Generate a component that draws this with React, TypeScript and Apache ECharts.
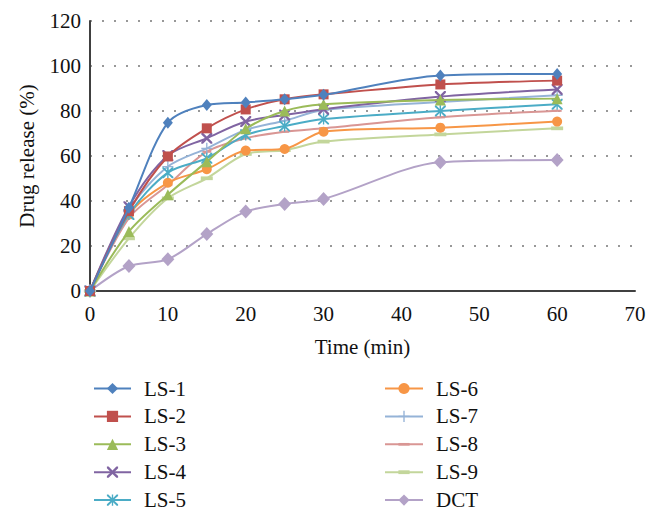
import React, { useEffect, useRef } from "react";
import * as echarts from "echarts";

const times = [0, 5, 10, 15, 20, 25, 30, 45, 60];
const seriesNames = ["LS-1", "LS-2", "LS-3", "LS-4", "LS-5", "LS-6", "LS-7", "LS-8", "LS-9", "DCT"];
const ls1 = [0, 37, 74.8, 82.7, 83.8, 85.2, 87.2, 95.8, 96.5];
const ls2 = [0, 35.5, 59.8, 72.3, 80.7, 85.2, 87.4, 91.8, 93.5];
const ls3 = [0, 26.4, 42.8, 57.5, 72.1, 80, 83, 84.9, 85.5];
const ls4 = [0, 37.5, 60.2, 67.9, 75.3, 78.2, 80.8, 86.4, 89.6];
const ls5 = [0, 34, 52.6, 59, 69.3, 73.3, 76.4, 80, 83];
const ls6 = [0, 34, 48.1, 54.1, 62.4, 63.1, 70.8, 72.6, 75.3];
const ls7 = [0, 36, 55.3, 63.4, 71.6, 75.7, 80.4, 84, 87];
const ls8 = [0, 32.4, 47.1, 61.9, 67.9, 70.8, 72.3, 77.2, 80.1];
const ls9 = [0, 23.4, 41.2, 50.1, 60.9, 62.6, 66.4, 69.6, 72.3];
const dct = [0, 11.1, 14.1, 25.3, 35.3, 38.7, 40.9, 57.2, 58.2];
const yTicks = [0, 20, 40, 60, 80, 100, 120];
const xTicks = [0, 10, 20, 30, 40, 50, 60, 70];

const allValues = [ls1, ls2, ls3, ls4, ls5, ls6, ls7, ls8, ls9, dct];
const colors = ["#4F81BD", "#C0504D", "#9BBB59", "#8064A2", "#4BACC6", "#F79646", "#95B3D7", "#D99694", "#C3D69B", "#B3A2C7"];

const xPath = "path://M0,0 L1.5,0 L5,3.5 L8.5,0 L10,0 L10,1.5 L6.5,5 L10,8.5 L10,10 L8.5,10 L5,6.5 L1.5,10 L0,10 L0,8.5 L3.5,5 L0,1.5 Z";
const plusPath = "path://M4.4,0 H5.6 V4.4 H10 V5.6 H5.6 V10 H4.4 V5.6 H0 V4.4 H4.4 Z";
const starPath = "path://M0,0 L1.3,0 L4.4,3.1 L4.4,0 L5.6,0 L5.6,3.1 L8.7,0 L10,0 L10,1.3 L5.9,5 L10,8.7 L10,10 L8.7,10 L5.6,6.9 L5.6,10 L4.4,10 L4.4,6.9 L1.3,10 L0,10 L0,8.7 L4.1,5 L0,1.3 Z";
const thinRect = "path://M0,0 M0,3.8 H10 V6.2 H0 Z M10,10";
const midRect = "path://M0,0 M0,3.3 H10 V6.7 H0 Z M10,10";

const symbols = ["diamond", "rect", "triangle", xPath, starPath, "circle", plusPath, thinRect, midRect, "diamond"];
const symbolSizes: any[] = [[10, 12], 10, 11, 11, 11, 10, 11, [9, 9], [12, 11], [13, 14]];

const FONT = "'Liberation Serif', 'Times New Roman', serif";

export default function App() {
  const ref = useRef<HTMLDivElement>(null);
  useEffect(() => {
    if (!ref.current) return;
    const chart = echarts.init(ref.current, undefined, { renderer: "svg" });
    const series = seriesNames.map((name, i) => ({
      name,
      type: "line",
      smooth: 0.3,
      data: times.map((t, j) => [t, allValues[i][j]]),
      symbol: symbols[i],
      symbolSize: symbolSizes[i],
      showAllSymbol: true,
      lineStyle: { color: colors[i], width: 2 },
      itemStyle: { color: colors[i] },
      z: 20 - i,
    }));
    chart.setOption({
      animation: false,
      backgroundColor: "#ffffff",
      textStyle: { fontFamily: FONT },
      grid: { left: 90, right: 23, top: 21, bottom: 228, containLabel: false },
      xAxis: {
        type: "value",
        min: xTicks[0],
        max: xTicks[xTicks.length - 1],
        interval: 10,
        name: "Time (min)",
        nameLocation: "middle",
        nameGap: 45,
        nameTextStyle: { fontFamily: FONT, fontSize: 21, color: "#111" },
        axisLine: { show: true, onZero: false, lineStyle: { color: "#404040", width: 2 } },
        axisTick: { show: false },
        splitLine: { show: false },
        axisLabel: { fontFamily: FONT, fontSize: 21, color: "#111", margin: 12 },
      },
      yAxis: {
        type: "value",
        min: yTicks[0],
        max: yTicks[yTicks.length - 1],
        interval: 20,
        name: "Drug release (%)",
        nameLocation: "middle",
        nameGap: 53,
        nameTextStyle: { fontFamily: FONT, fontSize: 21, color: "#111" },
        axisLine: { show: true, lineStyle: { color: "#404040", width: 2 } },
        axisTick: { show: false },
        splitLine: { show: true, lineStyle: { color: "#777", type: [2, 10], width: 1.5 } },
        axisLabel: { fontFamily: FONT, fontSize: 21, color: "#111", margin: 9 },
      },
      legend: [
        {
          data: seriesNames.slice(0, 5),
          orient: "vertical",
          left: 93,
          top: 378,
          padding: 0,
          itemWidth: 37,
          itemHeight: 14,
          itemGap: 6.9,
          textStyle: { fontFamily: FONT, fontSize: 21, color: "#111", lineHeight: 20, padding: [0, 0, 0, 8] },
        },
        {
          data: seriesNames.slice(5),
          orient: "vertical",
          left: 384,
          top: 378,
          padding: 0,
          itemWidth: 38,
          itemHeight: 14,
          itemGap: 6.9,
          textStyle: { fontFamily: FONT, fontSize: 21, color: "#111", lineHeight: 20, padding: [0, 0, 0, 8] },
        },
      ],
      series,
    });
    return () => chart.dispose();
  }, []);
  return <div ref={ref} style={{ width: 658, height: 519, margin: -8 }} />;
}
